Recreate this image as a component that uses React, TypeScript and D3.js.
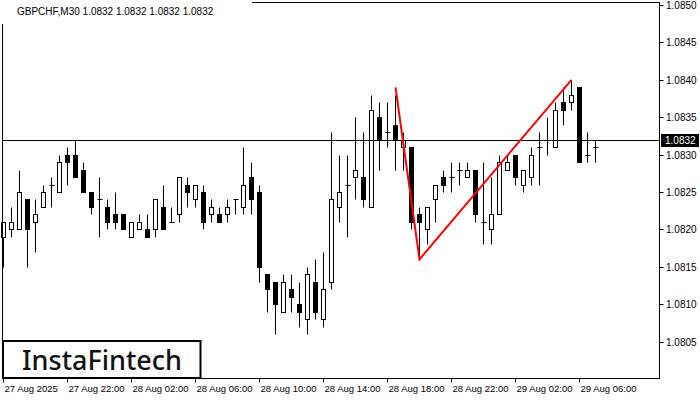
import React from "react";
import * as d3 from "d3";

const symbolTitle = "GBPCHF,M30  1.0832 1.0832 1.0832 1.0832";
const timeLabels = ["27 Aug 2025", "27 Aug 22:00", "28 Aug 02:00", "28 Aug 06:00", "28 Aug 10:00", "28 Aug 14:00", "28 Aug 18:00", "28 Aug 22:00", "29 Aug 02:00", "29 Aug 06:00"];
const timeTickIndex = [0, 8, 16, 24, 32, 40, 48, 56, 64, 72];
const priceTicks = [1.0805, 1.081, 1.0815, 1.082, 1.0825, 1.083, 1.0835, 1.084, 1.0845, 1.085];
const currentPrice = 1.0832;

// OHLC per M30 candle
const opens = [1.0819, 1.0820, 1.0820, 1.0824, 1.0821, 1.0823, 1.0826, 1.0825, 1.0830, 1.0830, 1.0828, 1.0825, 1.0824, 1.0823, 1.0822, 1.0822, 1.0819, 1.0820, 1.0820, 1.0820, 1.0823, 1.0821, 1.0822, 1.0826, 1.0824, 1.0825, 1.0822, 1.0822, 1.0822, 1.0824, 1.0823, 1.0827, 1.0825, 1.0814, 1.0813, 1.0809, 1.0812, 1.0810, 1.0808, 1.0813, 1.0808, 1.0813, 1.0823, 1.0826, 1.0827, 1.0827, 1.0823, 1.0835, 1.0833, 1.0834, 1.0831, 1.0831, 1.0822, 1.0820, 1.0824, 1.0827, 1.0827, 1.0828, 1.0827, 1.0828, 1.0821, 1.0820, 1.0822, 1.0828, 1.0830, 1.0826, 1.0827, 1.0831, 1.0832, 1.0831, 1.0837, 1.0837, 1.0839, 1.0830, 1.0831];
const highs = [1.0821, 1.0823, 1.0828, 1.0824, 1.0824, 1.0826, 1.0827, 1.0830, 1.0831, 1.0832, 1.0829, 1.0825, 1.0827, 1.0824, 1.0825, 1.0822, 1.0821, 1.0822, 1.0822, 1.0824, 1.0826, 1.0823, 1.0827, 1.0827, 1.0826, 1.0826, 1.0824, 1.0823, 1.0824, 1.0824, 1.0831, 1.0829, 1.0826, 1.0814, 1.0813, 1.0814, 1.0814, 1.0813, 1.0815, 1.0816, 1.0817, 1.0833, 1.0830, 1.0830, 1.0835, 1.0833, 1.0838, 1.0837, 1.0837, 1.0838, 1.0833, 1.0831, 1.0823, 1.0823, 1.0826, 1.0828, 1.0829, 1.0829, 1.0829, 1.0828, 1.0829, 1.0827, 1.0830, 1.0830, 1.0830, 1.0828, 1.0831, 1.0833, 1.0835, 1.0837, 1.0839, 1.0840, 1.0839, 1.0833, 1.0832];
const lows = [1.0815, 1.0819, 1.0820, 1.0815, 1.0817, 1.0823, 1.0823, 1.0825, 1.0826, 1.0827, 1.0825, 1.0822, 1.0819, 1.0820, 1.0820, 1.0820, 1.0819, 1.0820, 1.0819, 1.0819, 1.0820, 1.0821, 1.0821, 1.0823, 1.0823, 1.0820, 1.0821, 1.0821, 1.0821, 1.0822, 1.0822, 1.0822, 1.0813, 1.0809, 1.0806, 1.0809, 1.0809, 1.0807, 1.0806, 1.0808, 1.0807, 1.0812, 1.0821, 1.0819, 1.0824, 1.0823, 1.0823, 1.0828, 1.0831, 1.0828, 1.0828, 1.0820, 1.0816, 1.0818, 1.0821, 1.0825, 1.0825, 1.0826, 1.0827, 1.0821, 1.0818, 1.0818, 1.0822, 1.0828, 1.0826, 1.0825, 1.0826, 1.0826, 1.0830, 1.0831, 1.0834, 1.0836, 1.0829, 1.0829, 1.0829];
const closes = [1.0821, 1.0821, 1.0825, 1.0820, 1.0822, 1.0825, 1.0826, 1.0829, 1.0829, 1.0827, 1.0825, 1.0823, 1.0824, 1.0821, 1.0821, 1.0820, 1.0821, 1.0821, 1.0819, 1.0824, 1.0820, 1.0821, 1.0827, 1.0825, 1.0826, 1.0821, 1.0823, 1.0821, 1.0823, 1.0824, 1.0826, 1.0824, 1.0815, 1.0812, 1.0810, 1.0813, 1.0811, 1.0809, 1.0814, 1.0809, 1.0812, 1.0824, 1.0825, 1.0826, 1.0828, 1.0824, 1.0836, 1.0832, 1.0833, 1.0832, 1.0832, 1.0821, 1.0821, 1.0823, 1.0826, 1.0826, 1.0827, 1.0828, 1.0828, 1.0822, 1.0821, 1.0822, 1.0829, 1.0829, 1.0827, 1.0828, 1.0830, 1.0831, 1.0832, 1.0836, 1.0836, 1.0838, 1.0829, 1.0830, 1.0831];

// Double top pattern lines (candle index, price)
const patternIndex = [49, 52, 71];
const patternPrice = [1.0839, 1.0816, 1.0840];

const W = 700;
const H = 400;
const plotLeft = 2.5;
const plotRight = 659.5;
const plotTop = 2.5;
const plotBottom = 378.5;

const font = "'Liberation Sans', Arial, sans-serif";

export default function App() {
  const x = d3.scaleLinear().domain([0, 1]).range([3.5, 11.5]);
  const y = d3.scaleLinear().domain([1.0805, 1.085]).range([341.6, 5]);
  const py = (p: number) => Math.round(y(p)) + 0.5;

  const patternLine = d3
    .line<number>()
    .x((_, i) => x(patternIndex[i]))
    .y((d) => y(d));

  const curY = py(currentPrice);

  return (
    <svg width={W} height={H} style={{ position: "fixed", left: 0, top: 0, background: "#fff" }}>
      <rect x={0} y={0} width={W} height={H} fill="#fff" />
      {/* candles */}
      {opens.map((o, i) => {
        const c = closes[i];
        const cx = x(i);
        const top = py(Math.max(o, c));
        const bot = py(Math.min(o, c));
        const bull = c >= o;
        return (
          <g key={i}>
            <line x1={cx} x2={cx} y1={py(highs[i])} y2={py(lows[i])} stroke="#000" strokeWidth={1} />
            {o === c ? (
              <line x1={cx - 2} x2={cx + 3} y1={top} y2={top} stroke="#000" strokeWidth={1} />
            ) : (
              <rect x={cx - 2} y={top} width={4} height={bot - top} fill={bull ? "#fff" : "#000"} stroke="#000" strokeWidth={1} />
            )}
          </g>
        );
      })}
      {/* current price line */}
      <line x1={plotLeft} x2={plotRight} y1={curY} y2={curY} stroke="#000" strokeWidth={1} />
      {/* pattern */}
      <path d={patternLine(patternPrice) || ""} fill="none" stroke="#ff0000" strokeWidth={2} />
      {/* frame */}
      <rect x={plotLeft} y={plotTop} width={plotRight - plotLeft} height={plotBottom - plotTop} fill="none" stroke="#000" strokeWidth={1} />
      {/* title background */}
      <rect x={0} y={0} width={252} height={24} fill="#fff" />
      <text x={17} y={15} fontFamily={font} fontSize={10} fill="#000">{symbolTitle}</text>
      {/* price axis */}
      {priceTicks.map((p) => (
        <g key={p}>
          <line x1={plotRight} x2={plotRight + 4} y1={py(p)} y2={py(p)} stroke="#000" />
          <text x={666} y={py(p) + 3.5} fontFamily={font} fontSize={10} fill="#000">{p.toFixed(4)}</text>
        </g>
      ))}
      <rect x={661} y={curY - 6.5} width={38} height={13} fill="#000" />
      <text x={665} y={curY + 3.5} fontFamily={font} fontSize={10} fill="#fff">{currentPrice.toFixed(4)}</text>
      {/* time axis */}
      {timeTickIndex.map((ti, k) => (
        <g key={ti}>
          <line x1={x(ti)} x2={x(ti)} y1={plotBottom} y2={plotBottom + 4} stroke="#000" />
          <text x={x(ti) + 1} y={392} fontFamily={font} fontSize={9.5} fill="#000">{timeLabels[k]}</text>
        </g>
      ))}
      {/* logo */}
      <rect x={3} y={341} width={197.5} height={37} fill="#fff" stroke="#000" strokeWidth={2} />
      <text x={22} y={370} fontFamily="'Noto Sans', sans-serif" fontWeight={500} fontSize={27} fill="#111" textLength={160} lengthAdjust="spacingAndGlyphs">InstaFintech</text>
    </svg>
  );
}
